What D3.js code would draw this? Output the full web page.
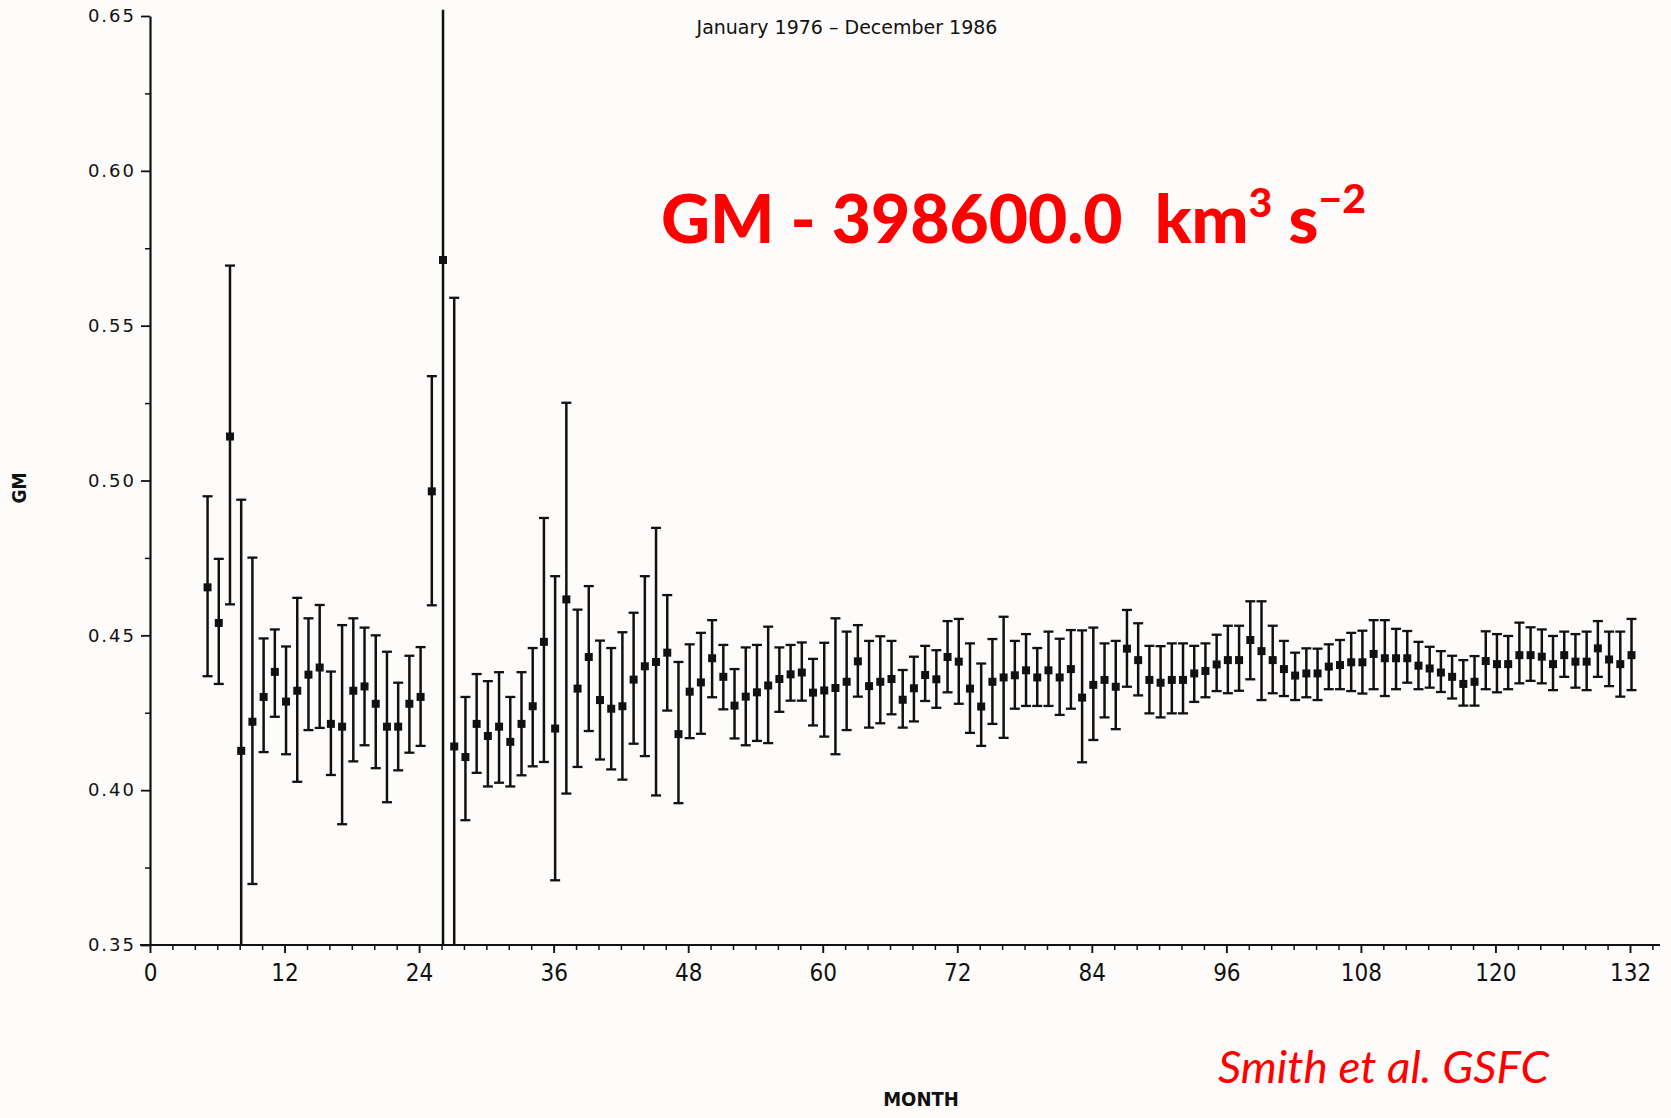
<!DOCTYPE html>
<html>
<head>
<meta charset="utf-8">
<script src="https://cdn.jsdelivr.net/npm/d3@7/dist/d3.min.js"></script>
<style>
  html, body { margin: 0; padding: 0; background: #fdfcfa; }
  svg { display: block; }
</style>
</head>
<body>
<svg id="chart" width="1671" height="1118"></svg>
<script>
// ---- DATA ----
const months = [5,6,7,8,9,10,11,12,13,14,15,16,17,18,19,20,21,22,23,24,25,26,27,28,29,30,31,32,33,34,35,36,37,38,39,40,41,42,43,44,45,46,47,48,49,50,51,52,53,54,55,56,57,58,59,60,61,62,63,64,65,66,67,68,69,70,71,72,73,74,75,76,77,78,79,80,81,82,83,84,85,86,87,88,89,90,91,92,93,94,95,96,97,98,99,100,101,102,103,104,105,106,107,108,109,110,111,112,113,114,115,116,117,118,119,120,121,122,123,124,125,126,127,128,129,130,131,132];

const gm = [0.4655,0.4540,0.5142,0.4127,0.4221,0.4301,0.4382,0.4286,0.4321,0.4373,0.4396,0.4214,0.4205,0.4321,0.4335,0.4279,0.4205,0.4205,0.4279,0.4301,
0.4965,0.5712,0.4141,0.4107,0.4214,0.4175,0.4205,0.4156,0.4214,0.4271,0.4479,0.4199,0.4616,0.4328,0.4430,0.4291,0.4263,0.4271,0.4357,0.4400,
0.4414,0.4444,0.4181,0.4318,0.4348,0.4426,0.4366,0.4273,0.4302,0.4316,0.4338,0.4359,0.4374,0.4380,0.4315,0.4322,0.4330,0.4350,0.4416,0.4336,
0.4350,0.4359,0.4292,0.4329,0.4372,0.4358,0.4430,0.4415,0.4328,0.4270,0.4350,0.4364,0.4371,0.4387,0.4364,0.4387,0.4364,0.4391,0.4299,0.4340,
0.4356,0.4334,0.4457,0.4420,0.4356,0.4347,0.4356,0.4356,0.4377,0.4385,0.4406,0.4420,0.4420,0.4485,0.4449,0.4420,0.4391,0.4370,0.4377,0.4377,
0.4399,0.4404,0.4413,0.4413,0.4440,0.4426,0.4426,0.4426,0.4402,0.4393,0.4380,0.4366,0.4343,0.4350,0.4417,0.4407,0.4407,0.4436,0.4436,0.4431,
0.4407,0.4436,0.4415,0.4415,0.4458,0.4422,0.4407,0.4436];

const gmLow = [0.4368,0.4343,0.4600,0.3316,0.3697,0.4123,0.4237,0.4116,0.4027,0.4194,0.4201,0.4049,0.3890,0.4093,0.4145,0.4071,0.3961,0.4064,0.4121,0.4143,
0.4597,0.3300,0.2690,0.3903,0.4056,0.4012,0.4024,0.4012,0.4048,0.4077,0.4091,0.3709,0.3989,0.4075,0.4191,0.4099,0.4067,0.4034,0.4150,0.4110,
0.3983,0.4257,0.3958,0.4168,0.4182,0.4300,0.4261,0.4167,0.4145,0.4159,0.4152,0.4253,0.4289,0.4289,0.4209,0.4173,0.4116,0.4194,0.4302,0.4202,
0.4216,0.4245,0.4202,0.4222,0.4288,0.4266,0.4316,0.4279,0.4185,0.4143,0.4214,0.4169,0.4263,0.4272,0.4272,0.4272,0.4243,0.4263,0.4090,0.4162,
0.4235,0.4197,0.4334,0.4306,0.4248,0.4235,0.4248,0.4248,0.4285,0.4300,0.4320,0.4313,0.4321,0.4358,0.4291,0.4313,0.4304,0.4291,0.4300,0.4291,
0.4326,0.4326,0.4320,0.4312,0.4326,0.4304,0.4326,0.4347,0.4326,0.4331,0.4317,0.4296,0.4273,0.4273,0.4326,0.4316,0.4326,0.4345,0.4353,0.4345,
0.4323,0.4366,0.4331,0.4323,0.4366,0.4336,0.4302,0.4323];

const gmHigh = [0.4949,0.4747,0.5694,0.4938,0.4751,0.4490,0.4519,0.4464,0.4621,0.4555,0.4598,0.4383,0.4533,0.4555,0.4525,0.4500,0.4447,0.4347,0.4434,0.4462,
0.5337,0.6600,0.5590,0.4301,0.4375,0.4352,0.4381,0.4301,0.4381,0.4459,0.4879,0.4691,0.5251,0.4583,0.4659,0.4483,0.4459,0.4510,0.4573,0.4691,
0.4847,0.4630,0.4414,0.4471,0.4508,0.4549,0.4469,0.4391,0.4461,0.4469,0.4528,0.4461,0.4469,0.4477,0.4424,0.4476,0.4555,0.4512,0.4533,0.4482,
0.4497,0.4482,0.4388,0.4431,0.4466,0.4452,0.4546,0.4553,0.4474,0.4409,0.4488,0.4560,0.4482,0.4504,0.4459,0.4512,0.4489,0.4517,0.4516,0.4525,
0.4474,0.4482,0.4582,0.4539,0.4466,0.4465,0.4474,0.4474,0.4466,0.4474,0.4502,0.4531,0.4531,0.4610,0.4610,0.4531,0.4482,0.4444,0.4458,0.4457,
0.4471,0.4485,0.4508,0.4515,0.4549,0.4549,0.4521,0.4514,0.4479,0.4463,0.4449,0.4434,0.4420,0.4433,0.4513,0.4504,0.4498,0.4541,0.4526,0.4519,
0.4498,0.4512,0.4504,0.4512,0.4546,0.4512,0.4512,0.4553];

const yTicks = [0.35,0.40,0.45,0.50,0.55,0.60,0.65];
const yMinorTicks = [0.375,0.425,0.475,0.525,0.575,0.625];
const xTicks = [0,12,24,36,48,60,72,84,96,108,120,132];
const xMinorTicks = [2,4,6,8,10,14,16,18,20,22,26,28,30,32,34,38,40,42,44,46,50,52,54,56,58,62,64,66,68,70,74,76,78,80,82,86,88,90,92,94,98,100,102,104,106,110,112,114,116,118,122,124,126,128,130,134];

const titleText = "January 1976 – December 1986";
const xLabel = "MONTH";
const yLabel = "GM";
const bigTitle = ["GM - 398600.0  km", "3", " s", "−2"];
const credit = "Smith et al. GSFC";

// ---- CHART ----
const svg = d3.select("#chart");
svg.append("rect").attr("width",1671).attr("height",1118).attr("fill","#fdfcfa");

const x = d3.scaleLinear().domain([0,132]).range([150,1630]);
const y = d3.scaleLinear().domain([0.35,0.65]).range([945,16]);
const yClip = v => y(Math.max(0.35, Math.min(0.652, v)));

const ink = "#111";

// y axis
const gy = svg.append("g").attr("transform",`translate(${x(0)},0)`);
gy.call(d3.axisLeft(y).tickValues(yTicks).tickFormat(d3.format(".2f")).tickSize(9).tickSizeOuter(0).tickPadding(5));
gy.select(".domain").attr("stroke",ink).attr("stroke-width",2.2);
gy.selectAll(".tick line").attr("stroke",ink).attr("stroke-width",1.8);
gy.selectAll(".tick text").attr("fill",ink).style("font-family","'DejaVu Sans', sans-serif")
  .style("font-size","18px").style("letter-spacing","2px");
const gy2 = svg.append("g").attr("transform",`translate(${x(0)},0)`);
gy2.call(d3.axisLeft(y).tickValues(yMinorTicks).tickFormat("").tickSize(5).tickSizeOuter(0));
gy2.select(".domain").remove();
gy2.selectAll(".tick line").attr("stroke",ink).attr("stroke-width",1.5);

// x axis
const gx = svg.append("g").attr("transform",`translate(0,${y(0.35)})`);
gx.call(d3.axisBottom(x).tickValues(xTicks).tickFormat(d3.format("d")).tickSize(8).tickSizeOuter(0).tickPadding(11));
gx.select(".domain").remove();
gx.selectAll(".tick line").attr("stroke",ink).attr("stroke-width",1.9);
gx.selectAll(".tick text").attr("fill",ink)
  .style("font-family","'Liberation Sans Narrow','DejaVu Sans Condensed',sans-serif")
  .style("font-size","24px");
const gx2 = svg.append("g").attr("transform",`translate(0,${y(0.35)})`);
gx2.call(d3.axisBottom(x).tickValues(xMinorTicks).tickFormat("").tickSize(5).tickSizeOuter(0));
gx2.select(".domain").remove();
gx2.selectAll(".tick line").attr("stroke",ink).attr("stroke-width",1.5);
svg.append("line").attr("x1",x(0)-10).attr("x2",x(0)+1510).attr("y1",y(0.35)).attr("y2",y(0.35))
  .attr("stroke",ink).attr("stroke-width",2.2);

// error bars
const pts = months.map((m,i)=>({m, v:gm[i], lo:gmLow[i], hi:gmHigh[i]}));
const bars = svg.append("g").attr("transform","translate(1.5,0)");
bars.selectAll("line.eb").data(pts).join("line").attr("class","eb")
  .attr("x1",d=>x(d.m)).attr("x2",d=>x(d.m))
  .attr("y1",d=>yClip(d.hi)).attr("y2",d=>yClip(d.lo))
  .attr("stroke",ink).attr("stroke-width",2.5);
const capW = 5;
bars.selectAll("line.capT").data(pts.filter(d=>d.hi<=0.65)).join("line").attr("class","capT")
  .attr("x1",d=>x(d.m)-capW).attr("x2",d=>x(d.m)+capW)
  .attr("y1",d=>y(d.hi)).attr("y2",d=>y(d.hi))
  .attr("stroke",ink).attr("stroke-width",2.3);
bars.selectAll("line.capB").data(pts.filter(d=>d.lo>=0.35)).join("line").attr("class","capB")
  .attr("x1",d=>x(d.m)-capW).attr("x2",d=>x(d.m)+capW)
  .attr("y1",d=>y(d.lo)).attr("y2",d=>y(d.lo))
  .attr("stroke",ink).attr("stroke-width",2.3);
const sq = 8;
bars.selectAll("rect.pt").data(pts).join("rect").attr("class","pt")
  .attr("x",d=>x(d.m)-sq/2).attr("y",d=>y(d.v)-sq/2)
  .attr("width",sq).attr("height",sq).attr("fill",ink);

// texts
svg.append("text").attr("x",847).attr("y",34).attr("text-anchor","middle")
  .style("font-family","'DejaVu Sans', sans-serif").style("font-size","19px").attr("fill",ink)
  .text(titleText);

svg.append("text").attr("x",921).attr("y",1106).attr("text-anchor","middle")
  .style("font-family","'DejaVu Sans Condensed','DejaVu Sans',sans-serif").style("font-weight","bold")
  .style("font-size","20px").attr("fill",ink).text(xLabel);

svg.append("text").attr("transform","translate(26,488) rotate(-90)").attr("text-anchor","middle")
  .style("font-family","'DejaVu Sans Condensed','DejaVu Sans',sans-serif").style("font-weight","bold")
  .style("font-size","19px").attr("fill",ink).text(yLabel);

const bt = svg.append("text").attr("x",661).attr("y",243)
  .style("font-family","Lato, 'Open Sans', sans-serif").style("font-weight","900")
  .style("font-size","66px").style("white-space","pre").attr("fill","#ff0000")
  .attr("textLength",705).attr("lengthAdjust","spacingAndGlyphs");
bt.append("tspan").text(bigTitle[0]);
bt.append("tspan").attr("dy",-26).style("font-size","40px").text(bigTitle[1]);
bt.append("tspan").attr("dy",26).text(bigTitle[2]);
bt.append("tspan").attr("dy",-30).style("font-size","40px").text(bigTitle[3]);

svg.append("text").attr("x",1218).attr("y",1083)
  .style("font-family","Lato, 'Open Sans', sans-serif").style("font-style","italic")
  .style("font-size","44px").attr("fill","#ff0000")
  .attr("textLength",331).attr("lengthAdjust","spacingAndGlyphs").text(credit);
</script>
</body>
</html>
